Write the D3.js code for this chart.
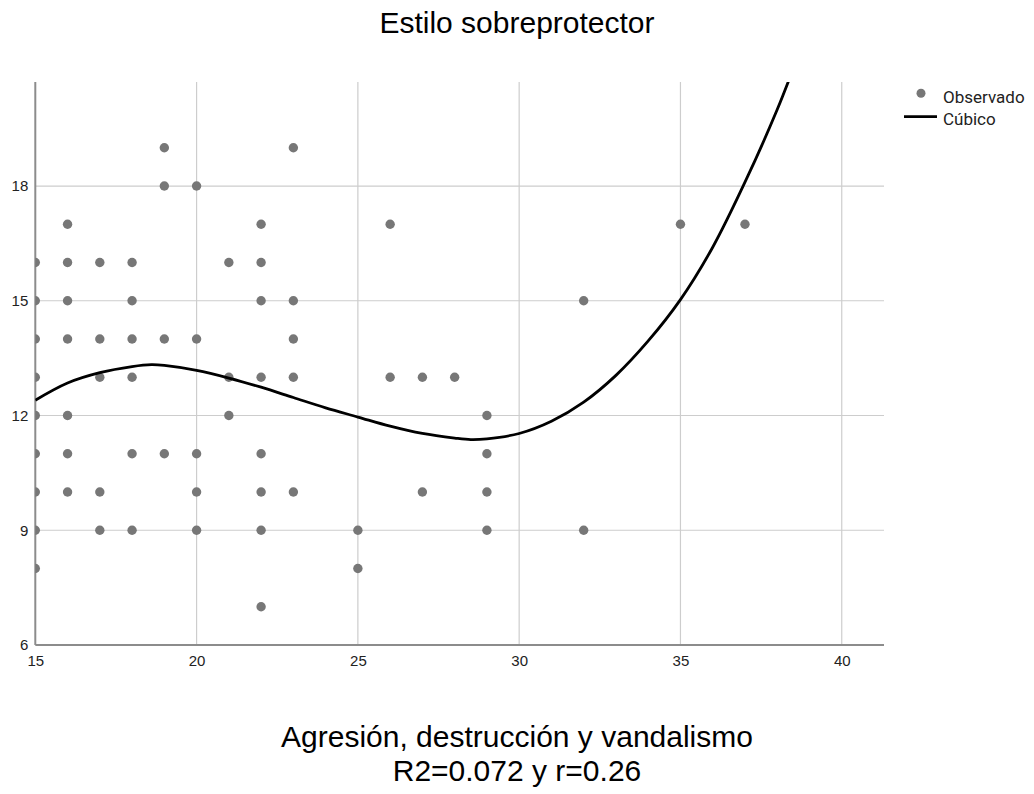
<!DOCTYPE html>
<html>
<head>
<meta charset="utf-8">
<script src="https://cdn.jsdelivr.net/npm/d3@7"></script>
<style>
  html, body { margin: 0; padding: 0; background: #fff; }
  svg { display: block; font-family: "Liberation Sans", Arial, sans-serif; }
</style>
</head>
<body>
<svg id="chart" width="1034" height="794"></svg>
<script>
// ---- Data ----
const title = "Estilo sobreprotector";
const xTitle = "Agresión, destrucción y vandalismo";
const xSubTitle = "R2=0.072 y r=0.26";
const legendLabels = ["Observado", "Cúbico"];

// Observed points
const obsX = [15,15,15,15,15,15,15,15,15,
              16,16,16,16,16,16,16,
              17,17,17,17,17,
              18,18,18,18,18,18,
              19,19,19,19,
              20,20,20,20,20,
              21,21,21,
              22,22,22,22,22,22,22,22,
              23,23,23,23,23,
              25,25,
              26,26,
              27,27,
              28,
              29,29,29,29,
              32,32,
              35,
              37];
const obsY = [16,15,14,13,12,11,10,9,8,
              17,16,15,14,12,11,10,
              16,14,13,10,9,
              16,15,14,13,11,9,
              19,18,14,11,
              18,14,11,10,9,
              16,13,12,
              17,16,15,13,11,10,9,7,
              19,15,14,13,10,
              9,8,
              17,13,
              13,10,
              13,
              12,11,10,9,
              15,9,
              17,
              17];

// Cubic fit line
const curveX = [15, 16, 17, 18, 18.6, 19, 20, 21, 22, 23, 24, 25, 26, 27, 28, 28.5, 29, 30, 31, 32, 33, 34, 35, 36, 37, 38, 38.6];
const curveY = [12.40, 12.85, 13.12, 13.28, 13.33, 13.31, 13.18, 12.98, 12.74, 12.47, 12.20, 11.96, 11.72, 11.53, 11.41, 11.37, 11.39, 11.53, 11.85, 12.35, 13.05, 13.95, 15.03, 16.40, 18.10, 20.00, 21.30];

const xTicks = [15, 20, 25, 30, 35, 40];
const yTicks = [6, 9, 12, 15, 18];
const xDomain = [15, 41.31];
const yDomain = [6, 20.72];

// ---- Layout ----
const svg = d3.select("#chart");
const plot = { left: 35.3, right: 884, top: 82, bottom: 645 };

const x = d3.scaleLinear().domain(xDomain).range([plot.left, plot.right]);
const y = d3.scaleLinear().domain(yDomain).range([plot.bottom, plot.top]);

svg.append("defs").append("clipPath").attr("id", "clip")
  .append("rect")
  .attr("x", plot.left).attr("y", plot.top)
  .attr("width", plot.right - plot.left).attr("height", plot.bottom - plot.top);

// Grid lines
const grid = svg.append("g");
grid.selectAll("line.v").data(xTicks.filter(d => d !== 15)).join("line")
  .attr("x1", d => x(d)).attr("x2", d => x(d))
  .attr("y1", plot.top).attr("y2", plot.bottom)
  .attr("stroke", "#cdcdcd").attr("stroke-width", 1.2);
grid.selectAll("line.h").data(yTicks.filter(d => d !== 6)).join("line")
  .attr("x1", plot.left).attr("x2", plot.right)
  .attr("y1", d => y(d)).attr("y2", d => y(d))
  .attr("stroke", "#cdcdcd").attr("stroke-width", 1.2);

// Axes
const xAxis = svg.append("g")
  .attr("transform", `translate(0,${plot.bottom})`)
  .call(d3.axisBottom(x).tickValues(xTicks).tickSize(0).tickPadding(10).tickFormat(d3.format("d")));
const yAxis = svg.append("g")
  .attr("transform", `translate(${plot.left},0)`)
  .call(d3.axisLeft(y).tickValues(yTicks).tickSize(0).tickPadding(7).tickFormat(d3.format("d")));
[xAxis, yAxis].forEach(a => {
  a.select(".domain").attr("stroke", "#8c8c8c").attr("stroke-width", 2);
  a.selectAll("text").attr("font-size", 15).attr("fill", "#222")
    .attr("font-family", "'Liberation Sans', Arial, sans-serif");
});
// x axis line spans plot width only
xAxis.select(".domain").attr("d", `M${plot.left},0H${plot.right}`);
yAxis.select(".domain").attr("d", `M0,${plot.top}V${plot.bottom}`);

// Points
const pts = obsX.map((v, i) => ({ x: v, y: obsY[i] }));
svg.append("g").attr("clip-path", "url(#clip)")
  .selectAll("circle").data(pts).join("circle")
  .attr("cx", d => x(d.x)).attr("cy", d => y(d.y)).attr("r", 4.7)
  .attr("fill", "#777777");

// Cubic line
const curvePts = curveX.map((v, i) => [v, curveY[i]]);
svg.append("g").attr("clip-path", "url(#clip)")
  .append("path")
  .datum(curvePts)
  .attr("d", d3.line().x(d => x(d[0])).y(d => y(d[1])).curve(d3.curveCatmullRom))
  .attr("fill", "none").attr("stroke", "#000").attr("stroke-width", 2.8);

// Title
svg.append("text").attr("x", 517).attr("y", 33).attr("text-anchor", "middle")
  .attr("font-size", 30).attr("fill", "#000").text(title);

// X axis title
svg.append("text").attr("x", 517).attr("y", 747).attr("text-anchor", "middle")
  .attr("font-size", 30).attr("fill", "#000").text(xTitle);
svg.append("text").attr("x", 517).attr("y", 781).attr("text-anchor", "middle")
  .attr("font-size", 30).attr("fill", "#000").text(xSubTitle);

// Legend
const lg = svg.append("g");
lg.append("circle").attr("cx", 921).attr("cy", 93.3).attr("r", 4.5).attr("fill", "#777777");
lg.append("text").attr("x", 943).attr("y", 102.5).attr("font-size", 17)
  .attr("font-family", "Roboto, 'Liberation Sans', sans-serif").attr("fill", "#222").text(legendLabels[0]);
lg.append("line").attr("x1", 904).attr("x2", 937).attr("y1", 116.7).attr("y2", 116.7)
  .attr("stroke", "#000").attr("stroke-width", 2.8);
lg.append("text").attr("x", 943).attr("y", 124.5).attr("font-size", 17)
  .attr("font-family", "Roboto, 'Liberation Sans', sans-serif").attr("fill", "#222").text(legendLabels[1]);
</script>
</body>
</html>
